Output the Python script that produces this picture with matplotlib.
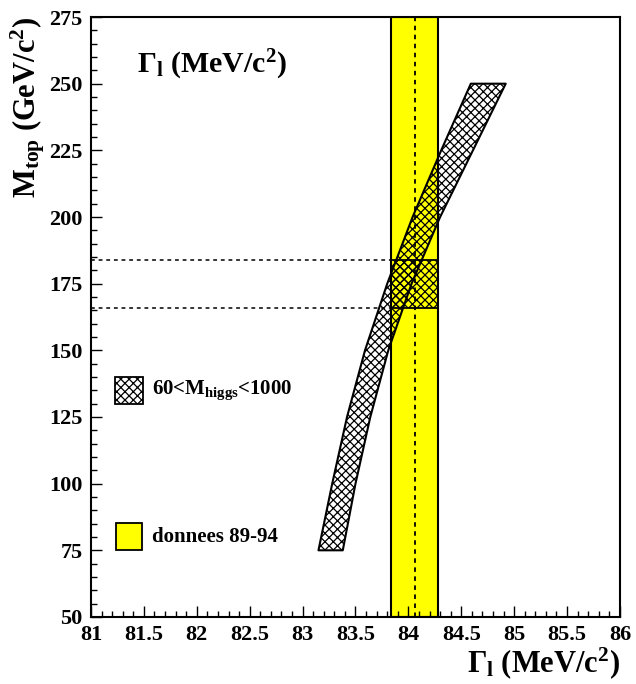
import numpy as np
import matplotlib
matplotlib.use("Agg")
import matplotlib.pyplot as plt
from matplotlib.patches import Rectangle
from matplotlib.ticker import MultipleLocator, FuncFormatter

plt.rcParams['font.family'] = ['Liberation Serif', 'DejaVu Serif']
plt.rcParams['font.weight'] = 'bold'
plt.rcParams['axes.labelweight'] = 'bold'
plt.rcParams['mathtext.fontset'] = 'custom'
plt.rcParams['mathtext.rm'] = 'Liberation Serif:bold'
plt.rcParams['mathtext.it'] = 'Liberation Serif:bold'
plt.rcParams['mathtext.bf'] = 'Liberation Serif:bold'
plt.rcParams['hatch.linewidth'] = 0.9

# bande theorique (60 < M_higgs < 1000)
mtop_edge = [75, 100, 125, 150, 175, 200, 225, 250]
gamma_low = [83.15, 83.28, 83.42, 83.59, 83.80, 84.04, 84.31, 84.59]
gamma_high = [83.38, 83.50, 83.64, 83.81, 84.03, 84.30, 84.61, 84.92]

# mesure donnees 89-94
gamma_data_lo = 83.84
gamma_data_hi = 84.28
gamma_data_mid = 84.06

# M_top mesure
mtop_lo = 166
mtop_hi = 184

fig = plt.figure(figsize=(6.36, 6.84), dpi=100)
ax = fig.add_axes([0.1431, 0.098, 0.8317, 0.8771])

ax.axvspan(gamma_data_lo, gamma_data_hi, facecolor='#ffff00', edgecolor='black', lw=1.5, zorder=1)
ax.fill_betweenx(mtop_edge, gamma_low, gamma_high, facecolor='none', edgecolor='black',
                 hatch='xxxx', lw=1.5, zorder=3)
ax.add_patch(Rectangle((gamma_data_lo, mtop_lo), gamma_data_hi - gamma_data_lo, mtop_hi - mtop_lo,
                       facecolor='none', edgecolor='black', hatch='xxxx', lw=1.3, zorder=3))
ax.axvline(gamma_data_mid, color='black', ls=(0, (2.5, 2.5)), lw=1.3, zorder=2)
ax.hlines([mtop_lo, mtop_hi], 81, gamma_data_lo, color='black', ls=(0, (2.5, 2.5)), lw=1.1, zorder=2)

# legende
ax.add_patch(Rectangle((81.23, 130), 0.26, 10, facecolor='none', edgecolor='black', hatch='xxxx', lw=1.3))
ax.text(81.58, 135, '60<M$_{higgs}$<1000', fontsize=15, va='center', ha='left')
ax.add_patch(Rectangle((81.24, 75), 0.24, 10.3, facecolor='#ffff00', edgecolor='black', lw=1.3))
ax.text(81.58, 80, 'donnees 89-94', fontsize=15, va='center', ha='left')

ax.text(81.43, 257, r'$\Gamma_{l}$ (MeV/c$^{2}$)', fontsize=21.5, va='center', ha='left')

ax.set_xlim(81, 86)
ax.set_ylim(50, 275)
ax.xaxis.set_major_locator(MultipleLocator(0.5))
ax.xaxis.set_minor_locator(MultipleLocator(0.1))
ax.yaxis.set_major_locator(MultipleLocator(25))
ax.yaxis.set_minor_locator(MultipleLocator(5))
ax.xaxis.set_major_formatter(FuncFormatter(lambda v, p: '%g' % v))
ax.tick_params(which='both', direction='in', top=False, right=False, labelsize=16, width=1)
ax.tick_params(which='major', length=8, pad=6)
ax.tick_params(which='minor', length=4)
for s in ax.spines.values():
    s.set_linewidth(1.5)

ax.set_xlabel(r'$\Gamma_{l}$ (MeV/c$^{2}$)', fontsize=22, loc='right', labelpad=0)
ax.set_ylabel(r'M$_{top}$ (GeV/c$^{2}$)', fontsize=22, loc='top', labelpad=2)

fig.savefig('out.png', dpi=100)
